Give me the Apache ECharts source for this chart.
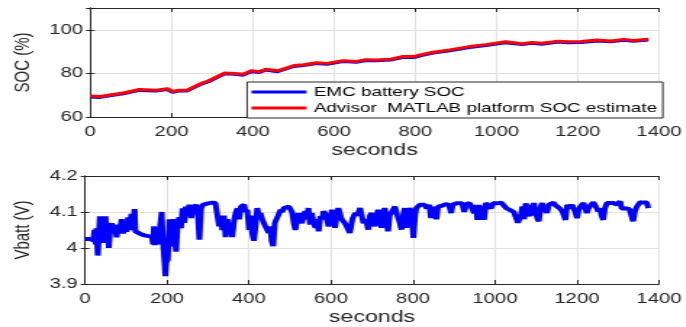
<!DOCTYPE html>
<html>
<head>
<meta charset="utf-8">
<script src="https://cdn.jsdelivr.net/npm/echarts@6.0.0/dist/echarts.min.js"></script>
<style>
html, body { margin: 0; padding: 0; background: #fff; overflow: hidden; }
/* the original figure is stretched sideways, so draw narrow and widen it */
#chart { width: 473px; height: 327px; transform: scaleX(1.45); transform-origin: 0 0; }
</style>
</head>
<body>
<div id="chart"></div>
<script>
// SOC traces (seconds, %)
var socTime = [0, 24, 48, 81, 121, 162, 190, 202, 218, 238, 275, 291, 331, 356, 376, 396, 416, 432, 461, 501,
    525, 557, 582, 622, 655, 679, 703, 739, 768, 796, 812, 844, 885, 933, 974, 1022, 1063, 1087, 1111, 1152,
    1176, 1208, 1248, 1281, 1313, 1337, 1374];
var socAdvisor = [69.6, 69.4, 70.1, 71.0, 72.6, 72.3, 73.0, 71.7, 72.3, 72.3, 75.6, 76.6, 80.2, 80.0, 79.6, 81.2, 80.8, 81.9, 81.2, 83.6,
    84.0, 84.9, 84.6, 85.8, 85.5, 86.3, 86.2, 86.5, 87.7, 87.7, 88.5, 89.7, 90.8, 92.3, 93.2, 94.5, 93.6, 94.2, 93.8, 94.8,
    94.5, 94.6, 95.3, 94.9, 95.6, 95.1, 95.7];
var socEmc = [69.2, 69.0, 69.7, 70.6, 72.2, 71.9, 72.6, 71.3, 71.9, 71.9, 75.2, 76.2, 79.8, 79.6, 79.2, 80.8, 80.4, 81.5, 80.8, 83.2,
    83.6, 84.5, 84.2, 85.4, 85.1, 85.9, 85.8, 86.1, 87.3, 87.3, 88.1, 89.3, 90.4, 91.9, 92.8, 94.1, 93.2, 93.8, 93.4, 94.4,
    94.1, 94.2, 94.9, 94.5, 95.2, 94.7, 95.3];

// battery voltage [seconds, V]
var vbattPoints = [
    [0,4.025],[10,4.025],[20,4.022],[23,4.05],[26,4.01],[28,4.055],[31,3.979],[34,4.04],[36,4.088],[38,4.03],[40,4.088],[44,4.014],[47,4.06],[50,4.088],[54,4.014],[56,4.06],[58,4.0],[62,4.06],
    [65,4.069],[69,4.04],[73,4.065],[77,4.03],[81,4.06],[85,4.045],[89,4.08],[93,4.04],[97,4.075],[101,4.045],[105,4.085],[109,4.05],[113,4.095],[117,4.06],[121,4.108],[123,4.046],[127,4.044],[135,4.039],[145,4.035],[155,4.033],[163,4.032],
    [166,4.01],[168,4.06],[170,4.008],[173,4.05],[176,4.04],[179,4.01],[183,4.06],[187,4.1],[190,4.02],[194,3.96],[196,3.922],[198,3.96],[202,3.968],[206,4.08],[209,4.03],[212,4.005],[216,4.08],[219,4.04],[222,3.99],
    [226,4.07],[230,4.085],[234,4.055],[238,4.11],[242,4.07],[246,4.115],[250,4.09],[254,4.12],[259,4.083],[263,4.11],[267,4.105],[271,4.12],[275,4.1],[279,4.023],[283,4.11],[287,4.12],[291,4.125],[300,4.124],[310,4.126],[318,4.125],[323,4.125],
    [327,4.06],[331,4.09],[335,4.05],[339,4.09],[343,4.03],[347,4.08],[351,4.05],[355,4.07],[359,4.03],[364,4.08],[368,4.1],[372,4.11],[376,4.08],[380,4.115],[384,4.11],[388,4.12],[392,4.1],[396,4.106],
    [400,4.05],[404,4.09],[408,4.04],[412,4.02],[416,4.06],[420,4.111],[424,4.09],[428,4.097],[432,4.08],[436,4.07],[440,4.06],[444,4.055],[448,4.042],[452,4.06],[455,4.02],[459,4.005],[463,4.07],[467,4.08],[471,4.09],[477,4.106],[481,4.1],[485,4.111],
    [490,4.11],[497,4.115],[501,4.12],[505,4.1],[509,4.07],[513,4.05],[517,4.08],[521,4.097],[525,4.08],[529,4.069],[533,4.09],[537,4.102],[541,4.08],[545,4.111],[549,4.065],[553,4.097],[558,4.07],[562,4.056],[566,4.08],[570,4.046],[574,4.088],[578,4.08],[582,4.102],[588,4.09],[594,4.06],[598,4.08],
    [602,4.106],[606,4.085],[610,4.056],[614,4.09],[618,4.111],[626,4.08],[634,4.069],[640,4.065],[646,4.042],[652,4.08],[659,4.097],[664,4.09],[671,4.111],[675,4.09],[679,4.069],[685,4.08],[691,4.051],[695,4.09],[699,4.097],
    [703,4.08],[707,4.06],[711,4.09],[715,4.106],[719,4.08],[723,4.056],[727,4.09],[731,4.111],[735,4.08],[739,4.046],[743,4.09],[748,4.1],[752,4.105],[756,4.115],[762,4.09],[768,4.07],[772,4.051],[776,4.09],[780,4.111],[784,4.056],[788,4.09],[792,4.111],[796,4.1],
    [801,4.028],[805,4.09],[808,4.111],[812,4.115],[816,4.12],[822,4.118],[828,4.12],[834,4.11],[840,4.12],[844,4.083],[848,4.115],[852,4.12],[857,4.08],[861,4.115],[866,4.12],[872,4.118],[880,4.122],[888,4.12],[893,4.097],[897,4.12],
    [905,4.124],[912,4.12],[920,4.124],[925,4.1],[930,4.122],[938,4.125],[944,4.12],[949,4.097],[953,4.12],[957,4.078],[961,4.12],[965,4.078],[969,4.115],[973,4.078],[978,4.125],[985,4.12],[990,4.11],[996,4.125],
    [1005,4.124],[1015,4.126],[1022,4.125],[1028,4.11],[1036,4.106],[1046,4.1],[1052,4.098],[1056,4.07],[1059,4.068],[1063,4.09],[1067,4.115],[1071,4.08],[1075,4.124],[1079,4.1],[1083,4.088],[1087,4.12],[1091,4.09],[1095,4.125],[1099,4.1],
    [1103,4.083],[1107,4.074],[1111,4.11],[1115,4.125],[1119,4.1],[1123,4.115],[1127,4.097],[1131,4.12],[1137,4.118],[1143,4.126],[1148,4.118],[1152,4.115],[1158,4.11],[1164,4.102],[1168,4.09],[1172,4.078],[1176,4.12],[1182,4.11],[1188,4.12],[1192,4.12],[1196,4.1],
    [1200,4.083],[1204,4.105],[1208,4.115],[1212,4.12],[1216,4.125],[1220,4.11],[1224,4.097],[1228,4.11],[1234,4.12],[1240,4.127],[1246,4.115],[1252,4.102],[1256,4.11],[1260,4.09],[1264,4.078],[1268,4.11],[1273,4.125],[1280,4.12],[1289,4.125],[1297,4.12],
    [1305,4.13],[1309,4.11],[1313,4.106],[1320,4.11],[1328,4.108],[1333,4.106],[1337,4.074],[1341,4.1],[1346,4.115],[1354,4.127],[1362,4.126],[1370,4.127],[1374,4.111]
];

var legendNames = ['EMC battery SOC', 'Advisor  MATLAB platform SOC estimate'];

var stretch = 1.45;
var ink = '#262626';
var gridColor = '#e2e2e2';
var font = '"Liberation Sans", Arial, Helvetica, sans-serif';

function zip(xs, ys) {
    return xs.map(function (x, i) { return [x, ys[i]]; });
}

function plain(v) {
    return String(+v.toFixed(2));
}

// bottom x axis with labels, or plain top edge of the box
function xAxisFor(grid, labelled) {
    return {
        type: 'value', gridIndex: grid, min: 0, max: 1400, interval: 200,
        position: labelled ? 'bottom' : 'top',
        name: labelled ? 'seconds' : '', nameLocation: 'middle', nameGap: 26,
        nameTextStyle: { color: ink, fontSize: 16, fontFamily: font },
        axisLine: { show: true, lineStyle: { color: ink, width: 1 } },
        axisTick: { show: true, inside: true, length: 4, lineStyle: { color: ink } },
        axisLabel: { show: labelled, color: ink, fontSize: 14, fontFamily: font, margin: 8, formatter: plain },
        splitLine: { show: labelled, lineStyle: { color: gridColor, width: 1 } }
    };
}

function yAxisFor(grid, labelled, min, max, interval, showMax, name, gap) {
    return {
        type: 'value', gridIndex: grid, min: min, max: max, interval: interval,
        position: labelled ? 'left' : 'right',
        name: labelled ? name : '', nameLocation: 'middle', nameGap: gap, nameRotate: 90,
        nameTextStyle: { color: ink, fontSize: 15, fontFamily: font },
        axisLine: { show: true, lineStyle: { color: ink, width: 1 } },
        axisTick: { show: true, inside: true, length: 3, lineStyle: { color: ink } },
        axisLabel: { show: labelled, color: ink, fontSize: 14, fontFamily: font, margin: 5, showMaxLabel: showMax, formatter: plain },
        splitLine: { show: labelled, lineStyle: { color: gridColor, width: 1 } }
    };
}

var chart = echarts.init(document.getElementById('chart'));
option = {
    animation: false,
    backgroundColor: '#fff',
    grid: [
        { left: 85 / stretch, right: 24 / stretch, top: 8, height: 109 },
        { left: 85 / stretch, right: 24 / stretch, top: 176, height: 109 }
    ],
    legend: {
        data: legendNames,
        orient: 'vertical',
        right: 23 / stretch, top: 82,
        padding: [2, 4, 2, 3],
        icon: 'rect',
        itemWidth: 38, itemHeight: 3, itemGap: 0,
        backgroundColor: '#fff',
        borderColor: ink, borderWidth: 1, borderRadius: 0,
        textStyle: { color: '#000', fontSize: 13, fontFamily: font, lineHeight: 16 }
    },
    xAxis: [xAxisFor(0, true), xAxisFor(0, false), xAxisFor(1, true), xAxisFor(1, false)],
    yAxis: [
        yAxisFor(0, true, 60, 110, 20, false, 'SOC (%)', 34),
        yAxisFor(0, false, 60, 110, 20, false),
        yAxisFor(1, true, 3.9, 4.2, 0.1, true, 'Vbatt (V)', 30),
        yAxisFor(1, false, 3.9, 4.2, 0.1, true)
    ],
    series: [
        {
            name: legendNames[0], type: 'line', xAxisIndex: 0, yAxisIndex: 0,
            showSymbol: false, symbol: 'none',
            lineStyle: { color: '#0000ff', width: 3 }, itemStyle: { color: '#0000ff' },
            data: zip(socTime, socEmc)
        },
        {
            name: legendNames[1], type: 'line', xAxisIndex: 0, yAxisIndex: 0,
            showSymbol: false, symbol: 'none',
            lineStyle: { color: '#ff0000', width: 3 }, itemStyle: { color: '#ff0000' },
            data: zip(socTime, socAdvisor)
        },
        {
            name: 'Vbatt', type: 'line', xAxisIndex: 2, yAxisIndex: 2,
            showSymbol: false, symbol: 'none',
            lineStyle: { color: '#0000ff', width: 4 }, itemStyle: { color: '#0000ff' },
            data: vbattPoints
        }
    ]
};
chart.setOption(option);
</script>
</body>
</html>
